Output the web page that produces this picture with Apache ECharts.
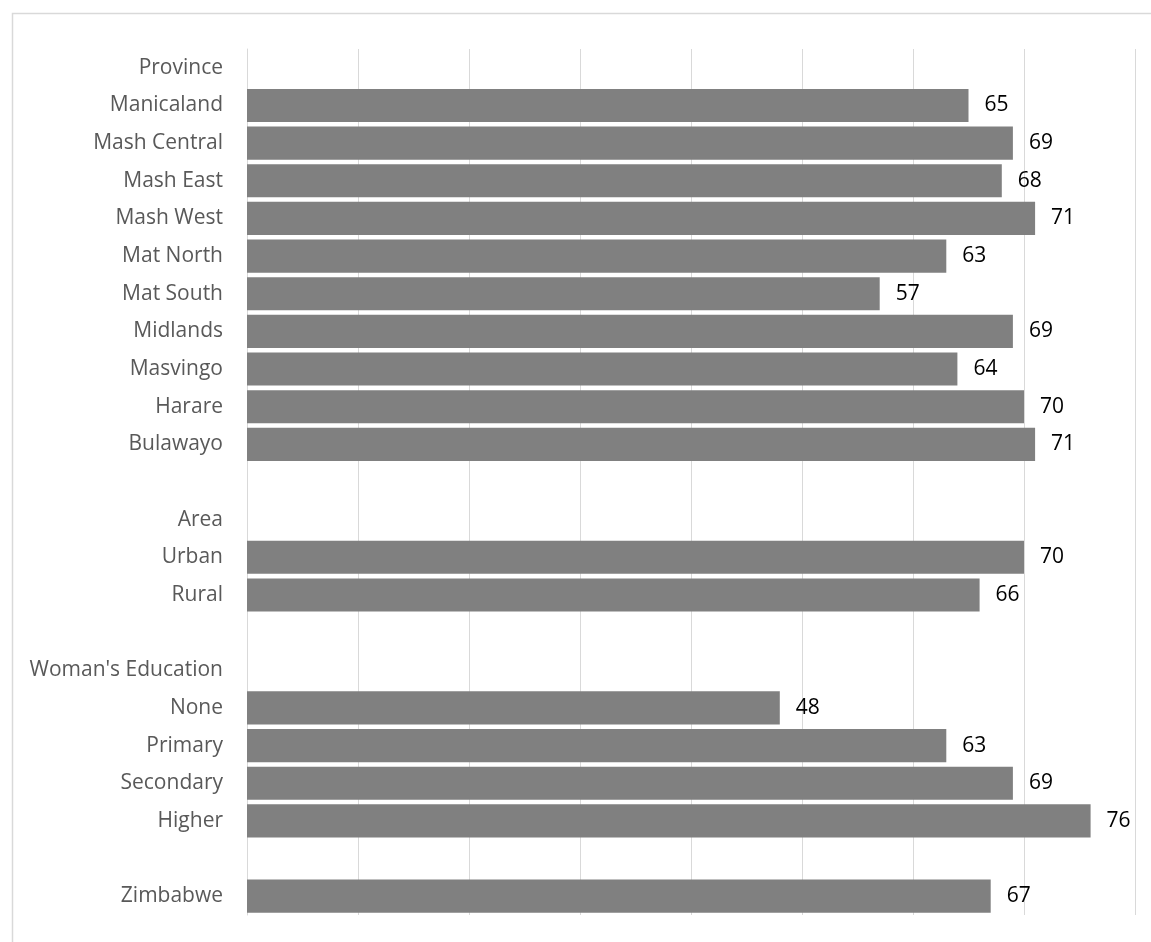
<!DOCTYPE html>
<html>
<head>
<meta charset="utf-8">
<script src="https://cdn.jsdelivr.net/npm/echarts@6/dist/echarts.min.js"></script>
<style>
html,body{margin:0;padding:0;background:#fff;}
#chart{width:1151px;height:942px;}
</style>
</head>
<body>
<div id="chart"></div>
<script>
var categories = [
  "Province", "Manicaland", "Mash Central", "Mash East", "Mash West", "Mat North",
  "Mat South", "Midlands", "Masvingo", "Harare", "Bulawayo",
  "", "Area", "Urban", "Rural",
  "", "Woman's Education", "None", "Primary", "Secondary", "Higher",
  "", "Zimbabwe"
];
var values = [
  null, 65, 69, 68, 71, 63,
  57, 69, 64, 70, 71,
  null, null, 70, 66,
  null, null, 48, 63, 69, 76,
  null, 67
];
var axisMin = 0, axisMax = 80, axisStep = 10;

var chart = echarts.init(document.getElementById('chart'));
chart.setOption({
  backgroundColor: '#ffffff',
  animation: false,
  graphic: [{
    type: 'rect',
    shape: {x: 12.5, y: 13.5, width: 1300, height: 1100},
    style: {fill: 'none', stroke: '#d9d9d9', lineWidth: 1.5},
    silent: true
  }],
  grid: {left: 247, right: 16, top: 49, bottom: 27, containLabel: false},
  xAxis: {
    type: 'value', min: axisMin, max: axisMax, interval: axisStep,
    axisLabel: {show: false}, axisLine: {show: false}, axisTick: {show: false},
    splitLine: {show: true, lineStyle: {color: '#d9d9d9', width: 1}}
  },
  yAxis: {
    type: 'category', inverse: true, data: categories,
    axisLine: {show: true, lineStyle: {color: '#d9d9d9', width: 1}},
    axisTick: {show: false},
    axisLabel: {color: '#595959', fontSize: 21, fontFamily: 'Open Sans', margin: 24, padding: [8, 0, 0, 0]}
  },
  series: [{
    type: 'bar', data: values, barCategoryGap: '12%',
    itemStyle: {color: '#808080'},
    label: {show: true, position: 'right', distance: 16, color: '#000000', fontSize: 21, fontFamily: 'Open Sans', padding: [6, 0, 0, 0]}
  }]
});
</script>
</body>
</html>
